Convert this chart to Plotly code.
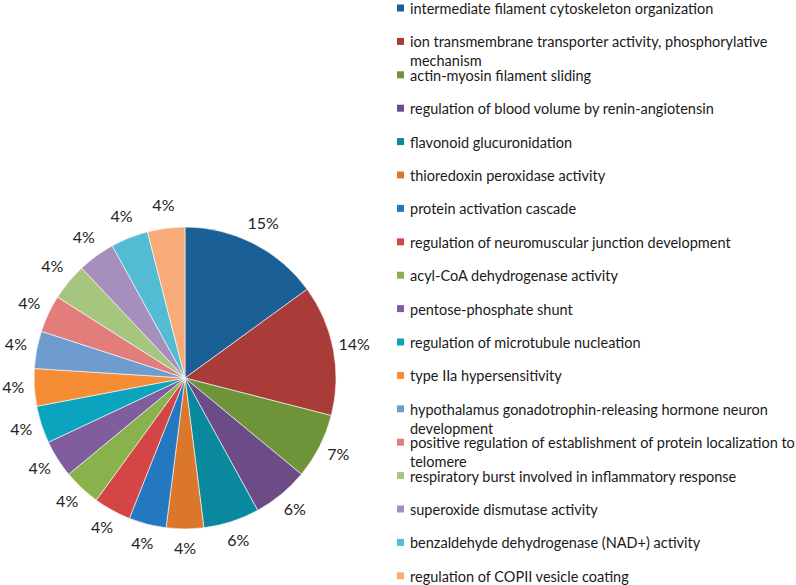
import numpy as np
import plotly.graph_objects as go

# categorias (ordem do gráfico, sentido horário a partir do topo)
labels = [
    'intermediate filament cytoskeleton organization',
    'ion transmembrane transporter activity, phosphorylative<br>mechanism',
    'actin-myosin filament sliding',
    'regulation of blood volume by renin-angiotensin',
    'flavonoid glucuronidation',
    'thioredoxin peroxidase activity',
    'protein activation cascade',
    'regulation of neuromuscular junction development',
    'acyl-CoA dehydrogenase activity',
    'pentose-phosphate shunt',
    'regulation of microtubule nucleation',
    'type IIa hypersensitivity',
    'hypothalamus gonadotrophin-releasing hormone neuron<br>development',
    'positive regulation of establishment of protein localization to<br>telomere',
    'respiratory burst involved in inflammatory response',
    'superoxide dismutase activity',
    'benzaldehyde dehydrogenase (NAD+) activity',
    'regulation of COPII vesicle coating',
]

# percentuais
values = [15, 14, 7, 6, 6, 4, 4, 4, 4, 4, 4, 4, 4, 4, 4, 4, 4, 4]

colors = ['#1A5F96', '#A93B38', '#6F9339', '#6B4C86', '#0A899E', '#DA772C',
          '#2478BF', '#D44545', '#88B24B', '#7F5D9E', '#0CA3BE', '#F68C35',
          '#6F9CCF', '#E27D7B', '#A6C57E', '#A68EBD', '#53BCD2', '#F9AA79']

W, H = 796, 585
cx, cy, r = 185, 378, 151  # centro e raio da pizza em pixels
dom = dict(x=[(cx - r) / W, (cx + r) / W], y=[(H - cy - r) / H, (H - cy + r) / H])
rmax = 1.2  # eixo polar vai um pouco além da borda da pizza (raio 1)
rp = r * rmax
dom_polar = dict(x=[(cx - rp) / W, (cx + rp) / W], y=[(H - cy - rp) / H, (H - cy + rp) / H])

fig = go.Figure()

fig.add_trace(go.Pie(
    labels=labels, values=values, sort=False, direction='clockwise', rotation=0,
    marker=dict(colors=colors, line=dict(color='white', width=0.6)),
    textinfo='none', domain=dom,
    showlegend=False, hoverinfo='label+percent',
))

# rótulos de percentual: eixo polar escondido em volta da pizza
vals = np.array(values, dtype=float)
mid_theta = ((np.cumsum(vals) - vals / 2) / vals.sum() * 360).tolist()
pct_text = ['%d%%' % round(v / vals.sum() * 100) for v in vals]

fig.add_trace(go.Scatterpolar(
    r=[1.14] * len(values), theta=mid_theta, mode='text', text=pct_text,
    textfont=dict(family='Lato', size=16, color='#222222'),
    showlegend=False, hoverinfo='skip',
))

# legenda feita à mão para acertar o espaçamento
row0, step = 8, 33.4
for i, (lab, col) in enumerate(zip(labels, colors)):
    yy = row0 + i * step
    fig.add_shape(type='rect', xref='paper', yref='paper',
                  x0=397 / W, x1=404 / W, y0=1 - (yy + 3.5) / H, y1=1 - (yy - 3.5) / H,
                  fillcolor=col, line=dict(width=0))
    fig.add_annotation(text=lab, xref='paper', yref='paper', x=408 / W, y=1 - (yy - 10) / H,
                       xanchor='left', yanchor='top', align='left', showarrow=False,
                       font=dict(family='Lato', size=14.5, color='#1a1a1a'))

fig.update_layout(
    width=W, height=H, margin=dict(l=0, r=0, t=0, b=0),
    paper_bgcolor='white', plot_bgcolor='white',
    polar=dict(domain=dom_polar, bgcolor='rgba(0,0,0,0)',
               radialaxis=dict(range=[0, rmax], visible=False),
               angularaxis=dict(direction='clockwise', rotation=90, visible=False)),
)

# tira a margem padrão do body para a figura ocupar a janela toda
fig.write_html('out.html', config={'displayModeBar': False},
               post_script="document.body.style.margin='0';")
